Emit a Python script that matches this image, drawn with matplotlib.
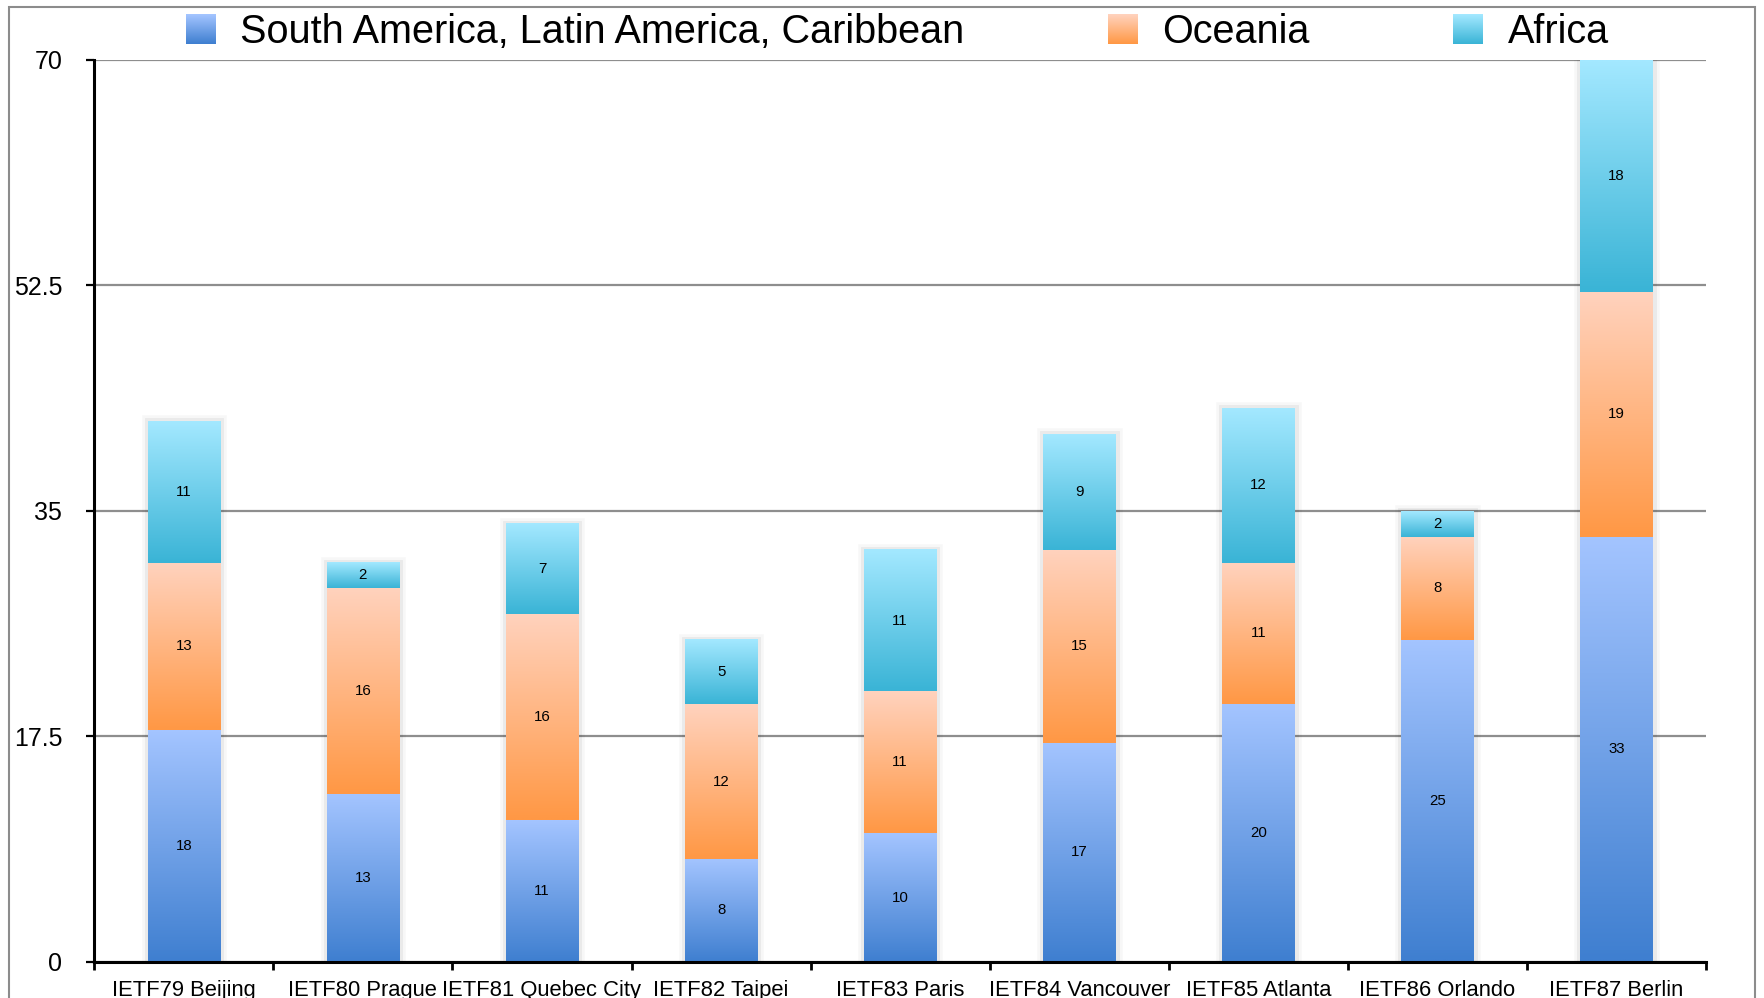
import numpy as np
import matplotlib
matplotlib.use('Agg')
import matplotlib.pyplot as plt
from matplotlib.patches import Rectangle
from matplotlib.legend_handler import HandlerBase
from matplotlib import patheffects as pe

plt.rcParams['font.family'] = ['Liberation Sans', 'DejaVu Sans']

meetings = ['IETF79 Beijing', 'IETF80 Prague', 'IETF81 Quebec City', 'IETF82 Taipei',
            'IETF83 Paris', 'IETF84 Vancouver', 'IETF85 Atlanta', 'IETF86 Orlando',
            'IETF87 Berlin']
south_america = [18, 13, 11, 8, 10, 17, 20, 25, 33]
oceania = [13, 16, 16, 12, 11, 15, 11, 8, 19]
africa = [11, 2, 7, 5, 11, 9, 12, 2, 18]

series = [
    ('South America, Latin America, Caribbean', south_america, '#a3c4ff', '#3f7fd0'),
    ('Oceania', oceania, '#ffd2bd', '#ff9845'),
    ('Africa', africa, '#a3e8ff', '#3ab4d6'),
]
yticks = [0, 17.5, 35, 52.5, 70]


def gradient(top, bottom, n=64):
    t = np.linspace(0, 1, n)[:, None]
    c0 = np.array(matplotlib.colors.to_rgb(top))
    c1 = np.array(matplotlib.colors.to_rgb(bottom))
    return (c0 * (1 - t) + c1 * t)[:, None, :]


class HandlerGradient(HandlerBase):
    def __init__(self, top, bottom):
        super().__init__()
        self.top, self.bottom = top, bottom

    def create_artists(self, legend, orig_handle, xdescent, ydescent, width, height, fontsize, trans):
        side = height
        x0 = -xdescent + (width - side) / 2
        y0 = -ydescent
        n = 30
        cols = gradient(self.top, self.bottom, n)[:, 0, :]
        arts = []
        for i in range(n):
            r = Rectangle((x0, y0 + side * (n - 1 - i) / n), side, side / n + 0.3,
                          facecolor=cols[i], edgecolor='none', transform=trans)
            arts.append(r)
        return arts


fig = plt.figure(figsize=(17.65, 9.98), dpi=100)
ax = fig.add_axes([0.0534, 0.0361, 0.9132, 0.9038])

x = np.arange(len(meetings))
width = 0.405
totals = np.sum([s[1] for s in series], axis=0)

# soft shadow behind each whole stack
halo = [pe.Stroke(linewidth=9, foreground='black', alpha=0.03),
        pe.Stroke(linewidth=5, foreground='black', alpha=0.05),
        pe.Normal()]
shadow = ax.bar(x, totals, width=width, color='white', edgecolor='none', zorder=1.5)
for b in shadow:
    b.set_path_effects(halo)

bottom = np.zeros(len(meetings))
handles = []
handler_map = {}
for name, vals, ctop, cbot in series:
    vals = np.array(vals, dtype=float)
    bars = ax.bar(x, vals, width=width, bottom=bottom, color=cbot, edgecolor='none',
                  zorder=2, label=name)
    for b, v in zip(bars, vals):
        bx, by = b.get_x(), b.get_y()
        ax.imshow(gradient(ctop, cbot), extent=[bx, bx + b.get_width(), by, by + b.get_height()],
                  aspect='auto', interpolation='bilinear', zorder=3)
        ax.text(bx + b.get_width() / 2, by + b.get_height() / 2, f'{int(v)}',
                ha='center', va='center', fontsize=10.8, color='black', zorder=4)
    bottom += vals
    h = Rectangle((0, 0), 1, 1)
    handles.append(h)
    handler_map[h] = HandlerGradient(ctop, cbot)

ax.set_xlim(-0.5, len(meetings) - 0.5)
ax.set_ylim(0, 70)
ax.set_aspect('auto')

for spine in ['top', 'right']:
    ax.spines[spine].set_visible(False)
for spine in ['left', 'bottom']:
    ax.spines[spine].set_linewidth(2.2)
    ax.spines[spine].set_color('black')
    ax.spines[spine].set_zorder(5)

ax.set_yticks(yticks)
ax.set_yticklabels(['0', '17.5', '35', '52.5', '70'])
ax.yaxis.grid(True, color='#8e8e8e', linewidth=1.6, zorder=1)
ax.set_axisbelow(True)
ax.tick_params(axis='y', length=6, width=1.6, direction='out', pad=17, labelsize=18)

ax.set_xticks(x)
ax.set_xticklabels(meetings)
ax.set_xticks(np.arange(-0.5, len(meetings)), minor=True)
ax.tick_params(axis='x', which='major', length=0, pad=13, labelsize=15.8)
ax.tick_params(axis='x', which='minor', length=6, width=2, direction='out')

fig.legend(handles, [s[0] for s in series], handler_map=handler_map,
           loc='center left', bbox_to_anchor=(185 / 1765, 1 - 32 / 998),
           ncol=3, frameon=False, fontsize=28.5, borderpad=0, borderaxespad=0,
           handlelength=0.8, handleheight=0.8, handletextpad=0.6, columnspacing=3.6)

fig.patches.append(Rectangle((9 / 1765, -0.02), (1755 - 9) / 1765, 1.02 - 7 / 998,
                             transform=fig.transFigure, facecolor='none',
                             edgecolor='#8c8c8c', linewidth=1.5))

fig.savefig('out.png', dpi=100)
